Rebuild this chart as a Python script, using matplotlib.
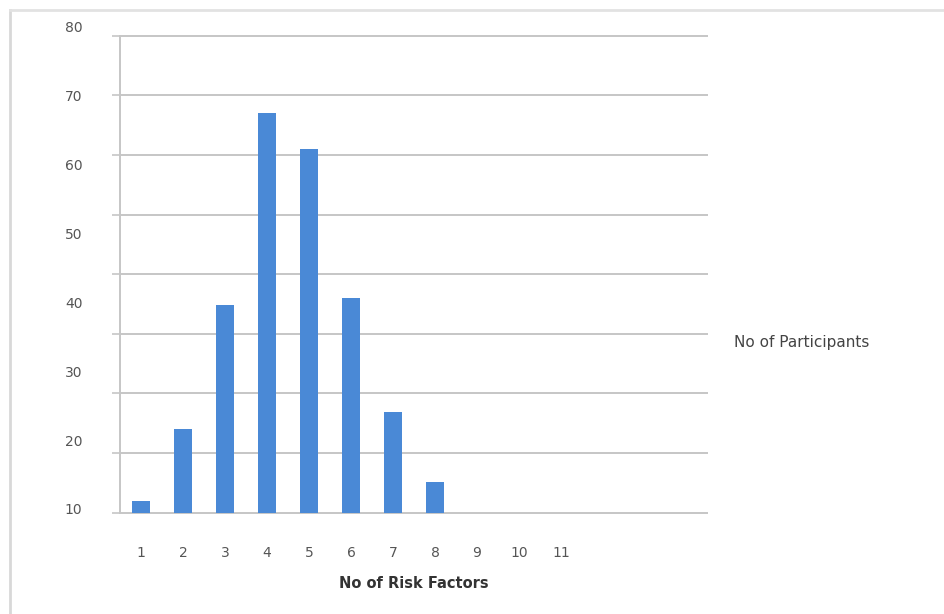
import numpy as np
import matplotlib
matplotlib.use('Agg')
import matplotlib.pyplot as plt
from matplotlib.lines import Line2D

plt.rcParams['font.family'] = ['DejaVu Sans']

# data
risk_factors = [1, 2, 3, 4, 5, 6, 7, 8, 9, 10, 11, 12, 13, 14]
participants = [11.2, 21.6, 39.6, 67.5, 62.3, 40.7, 24.1, 13.9, 0, 0, 0, 0, 0, 0]
x_labels = ['1', '2', '3', '4', '5', '6', '7', '8', '9', '10', '11', '', '', '']
y_labels = [10, 20, 30, 40, 50, 60, 70, 80]

Y_BOT, Y_TOP = 9.46, 78.73   # first and last gridline
BAR_COLOR = '#4A89D6'
GRID_COLOR = '#c6c6c6'
TXT = '#555555'
FS = 10

fig = plt.figure(figsize=(9.44, 6.14), dpi=100)
ax = fig.add_axes([120/944, 1-513.7/614, 588/944, 488.8/614])

# bars start at the bottom gridline
heights = [max(v - Y_BOT, 0) for v in participants]
ax.bar(risk_factors, heights, width=0.43, bottom=Y_BOT, color=BAR_COLOR,
       linewidth=0, zorder=3)

ax.set_xlim(0.5, 14.5)
ax.set_ylim(Y_BOT - 0.15, 80.3)

ax.set_xticks(risk_factors)
ax.set_xticklabels(x_labels)
ax.tick_params(axis='x', length=0, pad=23, labelsize=FS, colors=TXT)

ax.set_yticks(y_labels)
ax.set_yticklabels([str(v) for v in y_labels])
ax.tick_params(axis='y', which='major', length=0, pad=27, labelsize=FS, colors=TXT)
ax.set_yticks(np.linspace(Y_BOT, Y_TOP, 9), minor=True)
ax.tick_params(axis='y', which='minor', length=6, width=1.2, color=GRID_COLOR)
ax.grid(axis='y', which='minor', color=GRID_COLOR, lw=1.4, zorder=0)
ax.grid(axis='y', which='major', visible=False)

for s in ['top', 'right', 'bottom']:
    ax.spines[s].set_visible(False)
ax.spines['left'].set_color(GRID_COLOR)
ax.spines['left'].set_linewidth(1.4)
ax.spines['left'].set_bounds(Y_BOT, Y_TOP)

ax.set_xlabel('No of Risk Factors', fontsize=10.5, fontweight='bold',
              color='#333333', labelpad=12)

fig.text(734/944, 1-343/614, 'No of Participants', fontsize=11,
         color='#444444', va='center', ha='left')

# light frame round the chart (left and top only)
fig.add_artist(Line2D([10/944, 10/944], [0, 1-10/614], transform=fig.transFigure,
                      color='#d8d8d8', lw=2))
fig.add_artist(Line2D([10/944, 1], [1-10/614, 1-10/614], transform=fig.transFigure,
                      color='#e2e2e2', lw=2))

fig.savefig('out.png', dpi=100)
